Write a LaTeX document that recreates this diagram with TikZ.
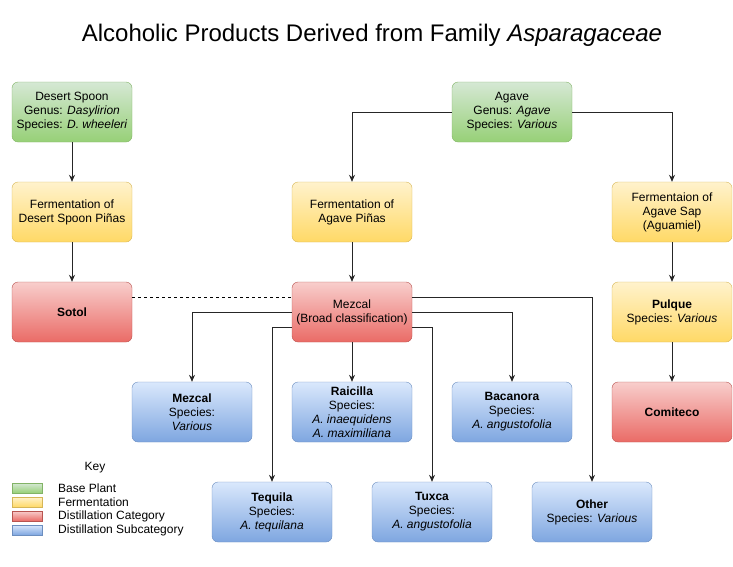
\documentclass[tikz,border=0pt]{standalone}
\usepackage{fontspec}
\setmainfont{Liberation Sans}
\usetikzlibrary{arrows.meta}
\definecolor{grnT}{HTML}{D5E8D4}\definecolor{grnB}{HTML}{97D077}\definecolor{grnD}{HTML}{82B366}
\definecolor{ylwT}{HTML}{FFF2CC}\definecolor{ylwB}{HTML}{FFD966}\definecolor{ylwD}{HTML}{D6B656}
\definecolor{redT}{HTML}{F8CECC}\definecolor{redB}{HTML}{EA6B66}\definecolor{redD}{HTML}{B85450}
\definecolor{bluT}{HTML}{DAE8FC}\definecolor{bluB}{HTML}{7EA6E0}\definecolor{bluD}{HTML}{6C8EBF}
\tikzset{
  box/.style={rounded corners=6pt, minimum width=120pt, minimum height=60pt, inner sep=1pt,
    align=center, font=\fontsize{12}{14}\selectfont},
  plant/.style={box, top color=grnT, bottom color=grnB, draw=grnD},
  ferment/.style={box, top color=ylwT, bottom color=ylwB, draw=ylwD},
  distcat/.style={box, top color=redT, bottom color=redB, draw=redD},
  distsub/.style={box, top color=bluT, bottom color=bluB, draw=bluD},
  swatch/.style={minimum width=30pt, minimum height=10pt, inner sep=0pt},
  keytext/.style={anchor=west, inner sep=0pt, font=\fontsize{12}{14}\selectfont},
  arr/.style={draw=black!85, line width=0.8pt, -{Stealth[length=7pt,width=6pt]}},
}
\begin{document}
\begin{tikzpicture}[x=1pt,y=-1pt]
\useasboundingbox (0,0) rectangle (733,566);
\node[font=\fontsize{24}{28}\selectfont] (title) at (372,35){Alcoholic Products Derived from Family \textit{Asparagaceae}};
% plants
\node[plant] (dspoon) at (72,112){Desert Spoon\\Genus: \textit{Dasylirion}\\Species: \textit{D. wheeleri}};
\node[plant] (agave) at (512,112){Agave\\Genus: \textit{Agave}\\Species: \textit{Various}};
% fermentation
\node[ferment] (fermds) at (72,212){Fermentation of\\Desert Spoon Piñas};
\node[ferment] (fermag) at (352,212){Fermentation of\\Agave Piñas};
\node[ferment] (fermsap) at (672,212){Fermentaion of\\Agave Sap\\(Aguamiel)};
\node[ferment] (pulque) at (672,312){\textbf{Pulque}\\Species: \textit{Various}};
% distillation categories
\node[distcat] (sotol) at (72,312){\textbf{Sotol}};
\node[distcat] (mezb) at (352,312){Mezcal\\(Broad classification)};
\node[distcat] (comiteco) at (672,412){\textbf{Comiteco}};
% subcategories
\node[distsub] (mezs) at (192,412){\textbf{Mezcal}\\Species:\\\textit{Various}};
\node[distsub] (raicilla) at (352,412){\textbf{Raicilla}\\Species:\\\textit{A. inaequidens}\\\textit{A. maximiliana}};
\node[distsub] (bacanora) at (512,412){\textbf{Bacanora}\\Species:\\\textit{A. angustofolia}};
\node[distsub] (tequila) at (272,512){\textbf{Tequila}\\Species:\\\textit{A. tequilana}};
\node[distsub] (tuxca) at (432,512){\textbf{Tuxca}\\Species:\\\textit{A. angustofolia}};
\node[distsub] (other) at (592,512){\textbf{Other}\\Species: \textit{Various}};
% connectors
\draw[arr](dspoon) -- (fermds);
\draw[arr](fermds) -- (sotol);
\draw[arr](agave.west) -| (fermag.north);
\draw[arr](agave.east) -| (fermsap.north);
\draw[arr](fermag) -- (mezb);
\draw[arr](fermsap) -- (pulque);
\draw[arr](pulque) -- (comiteco);
\draw[arr](mezb) -- (raicilla);
\draw[arr](mezb.west) -| (mezs.north);
\draw[arr]([yshift=-15pt]mezb.west) -| (tequila.north);
\draw[arr](mezb.east) -| (bacanora.north);
\draw[arr]([yshift=-15pt]mezb.east) -| (tuxca.north);
\draw[arr]([yshift=15pt]mezb.east) -| (other.north);
\draw[dashed, line width=0.8pt]([yshift=15pt]sotol.east) -- ([yshift=15pt]mezb.west);
% key
\node[font=\fontsize{12}{14}\selectfont] (key) at (95,468){Key};
\node[swatch, top color=grnT, bottom color=grnB, draw=grnD] (kplant) at (27,488){};
\node[swatch, top color=ylwT, bottom color=ylwB, draw=ylwD] (kferm) at (27,502){};
\node[swatch, top color=redT, bottom color=redB, draw=redD] (kcat) at (27,516){};
\node[swatch, top color=bluT, bottom color=bluB, draw=bluD] (ksub) at (27,530){};
\node[keytext] (tplant) at (58,488){Base Plant};
\node[keytext] (tferm) at (58,502){Fermentation};
\node[keytext] (tcat) at (58,516){Distillation Category};
\node[keytext] (tsub) at (58,530){Distillation Subcategory};
\end{tikzpicture}
\end{document}
